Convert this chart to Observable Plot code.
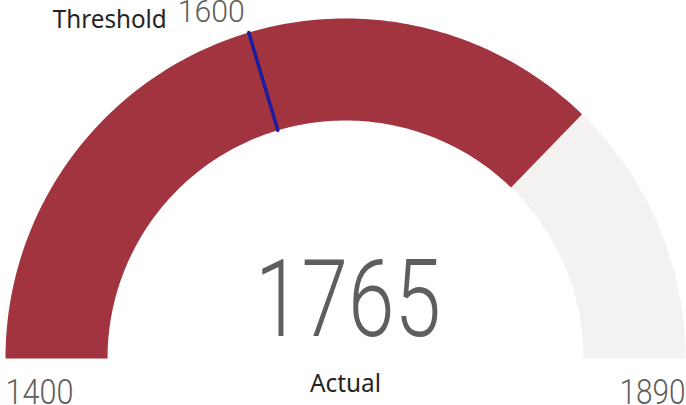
<!DOCTYPE html>
<html><head><meta charset="utf-8">
<script src="https://cdn.jsdelivr.net/npm/d3@7"></script>
<script src="https://cdn.jsdelivr.net/npm/@observablehq/plot@0.6"></script>
<style>body{margin:0;background:#fff;overflow:hidden}</style>
</head><body><div id="chart"></div>
<script>
// ---- data ----
const gaugeRange = [1400, 1890];
const actualValue = [1765];
const thresholdValue = [1600];
const rangeLabels = ["1400", "1890"];
const actualLabel = ["Actual"];
const thresholdLabel = ["Threshold"];

// ---- geometry helpers ----
const W = 686, H = 405;
const R = 340, r = 238;
const [vMin, vMax] = gaugeRange;
const ang = v => Math.PI * (1 - (v - vMin) / (vMax - vMin));
function band(a, b, n = 160) {
  const pts = [];
  for (let i = 0; i <= n; i++) { const t = ang(a + (b - a) * i / n); pts.push({x: R * Math.cos(t), y: R * Math.sin(t)}); }
  for (let i = n; i >= 0; i--) { const t = ang(a + (b - a) * i / n); pts.push({x: r * Math.cos(t), y: r * Math.sin(t)}); }
  return pts;
}
const grayBand = band(vMin, vMax);
const redBand = band(vMin, actualValue[0]);
const tA = ang(thresholdValue[0]);
const thrLine = [{x: r * Math.cos(tA), y: r * Math.sin(tA)}, {x: R * Math.cos(tA), y: R * Math.sin(tA)}];
const tip = thrLine[1];

const plot = Plot.plot({
  width: W, height: H,
  margin: 0,
  x: {domain: [-345, 341], range: [0, W], axis: null},
  y: {domain: [-47, 358], range: [H, 0], axis: null},
  style: {background: "#fff"},
  marks: [
    Plot.line(grayBand, {x: "x", y: "y", fill: "#F3F2F1", stroke: "none"}),
    Plot.line(redBand, {x: "x", y: "y", fill: "#A2343F", stroke: "none"}),
    Plot.line(thrLine, {x: "x", y: "y", stroke: "#1C1C9E", strokeWidth: 3.5}),
    Plot.text(actualValue, {x: () => 2.5, y: () => 23, text: d => String(d), textAnchor: "middle", lineAnchor: "bottom",
      fontSize: 108, fontFamily: "Roboto", fontWeight: 300, fill: "#605E5C", className: "big"}),
    Plot.text(actualLabel, {x: () => 0, y: () => -33, text: d => d, textAnchor: "middle", lineAnchor: "bottom",
      fontSize: 25, fontFamily: "Noto Sans", fill: "#252423", className: "act"}),
    Plot.text([rangeLabels[0]], {x: () => -340, y: () => -45, text: d => d, textAnchor: "start", lineAnchor: "bottom",
      fontSize: 35, fontFamily: "Roboto", fontWeight: 300, fill: "#605E5C", className: "rl"}),
    Plot.text([rangeLabels[1]], {x: () => 340, y: () => -45, text: d => d, textAnchor: "end", lineAnchor: "bottom",
      fontSize: 35, fontFamily: "Roboto", fontWeight: 300, fill: "#605E5C", className: "rr"}),
    Plot.text(thresholdValue, {x: () => tip.x - 4, y: () => tip.y + 11, text: d => String(d), textAnchor: "end", lineAnchor: "bottom",
      fontSize: 32, fontFamily: "Roboto", fontWeight: 300, fill: "#605E5C", className: "tv"}),
    Plot.text(thresholdLabel, {x: () => tip.x - 82, y: () => tip.y + 5, text: d => d, textAnchor: "end", lineAnchor: "bottom",
      fontSize: 25, fontFamily: "Noto Sans", fill: "#252423", className: "tl"})
  ]
});
document.getElementById("chart").append(plot);
const fit = {big: 186, act: 71, rl: 68, rr: 66, tv: 67, tl: 114};
for (const [cls, len] of Object.entries(fit)) {
  plot.querySelectorAll(`.${cls} text`).forEach(t => { t.setAttribute("textLength", len); t.setAttribute("lengthAdjust", "spacingAndGlyphs"); });
}
</script>
</body></html>
